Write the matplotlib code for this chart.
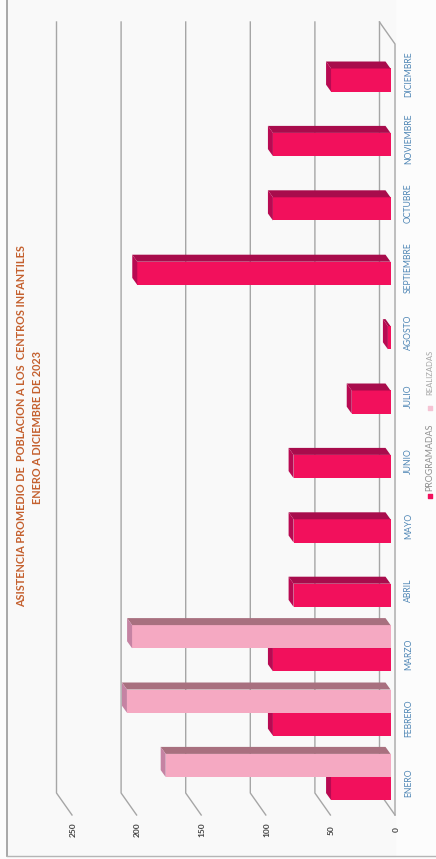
"""Asistencia promedio chart: 3D-looking bars on a sideways scanned page."""
import matplotlib
matplotlib.use("Agg")
import matplotlib.pyplot as plt
from matplotlib.patches import Polygon

months = ["ENERO", "FEBRERO", "MARZO", "ABRIL", "MAYO", "JUNIO", "JULIO",
          "AGOSTO", "SEPTIEMBRE", "OCTUBRE", "NOVIEMBRE", "DICIEMBRE"]
programadas = [46, 91, 91, 75, 75, 75, 30, 2, 196, 91, 91, 46]
realizadas = [174, 204, 200, 0, 0, 0, 0, 0, 0, 0, 0, 0]
ticks = [0, 50, 100, 150, 200, 250]

plt.rcParams["font.family"] = ["Lato", "DejaVu Sans"]

W, H = 436, 859
PX_PER_VAL = 1.292
PX_PER_CAT = 64.4

# value axis runs right to left, the whole page is rotated
fig = plt.figure(figsize=(W / 100, H / 100), dpi=100, facecolor="#fcfcfc")
ax = fig.add_axes([0, 0, 1, 1])
ax.set_xlim(390.5 / PX_PER_VAL, (390.5 - W) / PX_PER_VAL)
ax.set_ylim((788.5 - H) / PX_PER_CAT, 788.5 / PX_PER_CAT)
ax.axis("off")


def vx(px):
    return (390.5 - px) / PX_PER_VAL


def cy(px):
    return (788.5 - px) / PX_PER_CAT


# depth of the 3D look
dx = 5 / PX_PER_VAL
dy = 7 / PX_PER_CAT
half = 11.6 / PX_PER_CAT
back_dx = 11 / PX_PER_VAL
front_dx = -4.5 / PX_PER_VAL

# plot wall and page frame
ax.fill_between([vx(7), vx(395)], cy(0), cy(856), color="#f9f9f9", zorder=0)
ax.plot([vx(7), vx(7)], [cy(0), cy(856)], color="#9a9a9a", lw=1.2, zorder=1)
ax.plot([vx(7), vx(436)], [cy(856), cy(856)], color="#b5b5b5", lw=1.0, zorder=1)

# gridlines on the back wall with their floor diagonals
for t in ticks:
    xb = t + back_dx
    xf = t + front_dx
    ax.plot([xb, xb, xf], [cy(22), cy(793), cy(815)], color="#a6a6a6", lw=1.0, zorder=2)
ax.plot([back_dx, front_dx, front_dx], [cy(22), cy(44), cy(815)], color="#a6a6a6", lw=1.0, zorder=2)


def bar3d(value, center, front, top, side):
    if value <= 0:
        return
    y0, y1 = center - half, center + half
    ax.barh(center, value, height=2 * half, color=front, zorder=4)
    ax.add_patch(Polygon([(0, y1), (value, y1), (value + dx, y1 + dy), (dx, y1 + dy)],
                         closed=True, fc=top, ec="none", zorder=4))
    ax.add_patch(Polygon([(value, y0), (value, y1), (value + dx, y1 + dy), (value + dx, y0 + dy)],
                         closed=True, fc=side, ec="none", zorder=4))


for i, (p, r) in enumerate(zip(programadas, realizadas)):
    bar3d(p, i, "#f2105c", "#a80c4c", "#b80a52")
    bar3d(r, i + 23 / PX_PER_CAT, "#f5a9c2", "#a8707f", "#c583a3")
    ax.text(vx(408.5), i + 5.5 / PX_PER_CAT, months[i], rotation=90, ha="center", va="center",
            fontsize=6.2, color="#4f86b5", zorder=5)

for t in ticks:
    ax.text(t + vx(396), cy(830), str(t), rotation=90, ha="center", va="center",
            fontsize=6, fontweight="bold", color="#444444", zorder=5)

ax.text(vx(22), cy(426), "ASISTENCIA PROMEDIO DE  POBLACION A LOS  CENTROS INFANTILES",
        rotation=90, ha="center", va="center", fontsize=7.85, fontweight="bold", color="#c4602e")
ax.text(vx(38), cy(427), "ENERO A DICIEMBRE DE 2023",
        rotation=90, ha="center", va="center", fontsize=7.85, fontweight="bold", color="#c4602e")

# legend, rotated with the page
ax.scatter([vx(430)], [cy(496)], marker="s", s=12, color="#f2105c", zorder=5)
ax.text(vx(430), cy(457), "PROGRAMADAS", rotation=90, ha="center", va="center",
        fontsize=6.4, color="#8f8f8f")
ax.scatter([vx(430)], [cy(408)], marker="s", s=8, color="#f5c4d4", zorder=5)
ax.text(vx(430), cy(372), "REALIZADAS", rotation=90, ha="center", va="center",
        fontsize=5.5, color="#a5a5a5")

fig.savefig("out.png", dpi=100)
plt.close(fig)
